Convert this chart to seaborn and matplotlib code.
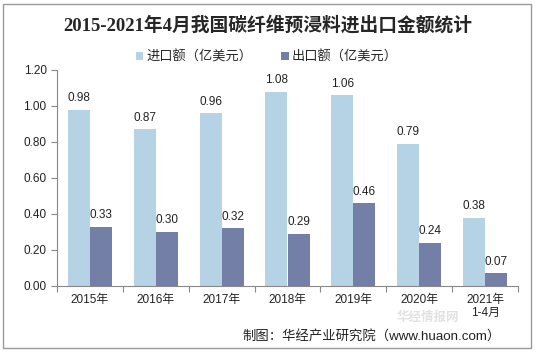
import pandas as pd
import seaborn as sns
import matplotlib.pyplot as plt
from matplotlib.patches import Rectangle

years = ['2015年', '2016年', '2017年', '2018年', '2019年', '2020年', '2021年\n1-4月']
imports = [0.98, 0.87, 0.96, 1.08, 1.06, 0.79, 0.38]
exports = [0.33, 0.30, 0.32, 0.29, 0.46, 0.24, 0.07]
series = ['进口额（亿美元）', '出口额（亿美元）']
y_ticks = [0.0, 0.2, 0.4, 0.6, 0.8, 1.0, 1.2]

df = pd.DataFrame({
    'year': years * 2,
    'value': imports + exports,
    'series': [series[0]] * len(years) + [series[1]] * len(years),
})

sns.set_style('white')
plt.rcParams['font.family'] = ['Liberation Sans', 'Noto Sans CJK SC']

fig = plt.figure(figsize=(5.36, 3.52), dpi=100)
ax = fig.add_axes([57 / 536, 66 / 352, 461 / 536, 216 / 352])

colors = ['#B5D3E5', '#737FA7']
sns.barplot(data=df, x='year', y='value', hue='series', hue_order=series,
            palette=colors, width=0.67, saturation=1, linewidth=0, ax=ax)

for container in ax.containers:
    ax.bar_label(container, fmt='%.2f', padding=4, fontsize=8.5, color='#222222')

ax.set_ylim(0, 1.2)
ax.set_yticks(y_ticks)
ax.set_yticklabels([f'{v:.2f}' for v in y_ticks], fontsize=8.5, color='#222222')
ax.set_xlim(-0.5, len(years) - 0.5)
ax.set_xticks([i + 0.5 for i in range(-1, len(years))])
ax.set_xticklabels([])
for i, lab in enumerate(years):
    ax.text(i, -0.045, lab, ha='center', va='top', fontsize=8.5, color='#222222',
            linespacing=1.1)
ax.tick_params(axis='both', length=4, direction='out', color='#888888', width=0.8,
               bottom=True, left=True)
ax.set_xlabel('')
ax.set_ylabel('')
for side in ['top', 'right']:
    ax.spines[side].set_visible(False)
for side in ['left', 'bottom']:
    ax.spines[side].set_color('#888888')
    ax.spines[side].set_linewidth(0.8)

ax.legend(loc='lower center', bbox_to_anchor=(0.455, 1.0), ncol=2, frameon=False,
          fontsize=9.5, handlelength=0.55, handleheight=0.55, columnspacing=2.2,
          handletextpad=0.25, borderaxespad=0.1)

fig.text(0.5, 0.93, '2015-2021年4月我国碳纤维预浸料进出口金额统计', ha='center',
         va='center', fontsize=13.5, fontweight='bold',
         family=['Liberation Serif', 'Noto Sans CJK SC'])
fig.text(0.74, 0.098, '华经情报网', ha='left', va='center', fontsize=9,
         color='#e2e2e2', fontweight='bold', zorder=0)
fig.text(0.935, 0.042, '制图：华经产业研究院（www.huaon.com）', ha='right',
         va='center', fontsize=9.6, color='#222222')

fig.patches.append(Rectangle((3 / 536, 4 / 352), 528 / 536, 344 / 352,
                             transform=fig.transFigure, fill=False,
                             edgecolor='#999999', linewidth=1))

fig.savefig('out.png', dpi=100)
